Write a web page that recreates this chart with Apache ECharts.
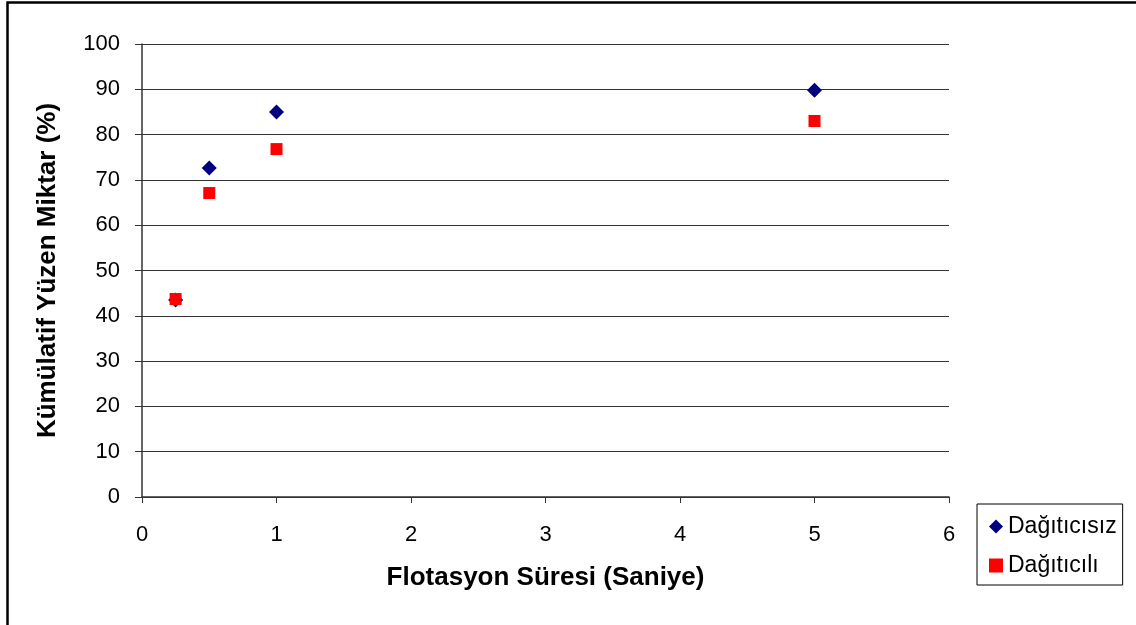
<!DOCTYPE html>
<html>
<head>
<meta charset="utf-8">
<script src="https://cdn.jsdelivr.net/npm/echarts@6/dist/echarts.min.js"></script>
<style>
  html, body { margin: 0; padding: 0; background: #fff; }
  #chart { width: 1136px; height: 625px; }
</style>
</head>
<body>
<div id="chart"></div>
<script>
// Flotation time (s) and cumulative floated amount (%)
const seriesNames = ['Dağıtıcısız', 'Dağıtıcılı'];
const times = [0.25, 0.5, 1, 5];
const withoutDispersant = [43.5, 72.6, 85.0, 89.8];
const withDispersant = [43.7, 67.1, 76.8, 83.0];

const xTitle = 'Flotasyon Süresi (Saniye)';
const yTitle = 'Kümülatif Yüzen Miktar (%)';

const font = 'Liberation Sans, Arial, sans-serif';

const chart = echarts.init(document.getElementById('chart'), null, { renderer: 'canvas' });

chart.setOption({
  backgroundColor: '#fff',
  animation: false,
  graphic: [{
    type: 'rect',
    shape: { x: 7.5, y: 2.5, width: 1140, height: 640 },
    style: { fill: 'none', stroke: '#000', lineWidth: 2.5 },
    silent: true
  }],
  grid: { left: 142, top: 44, right: 187, bottom: 128, containLabel: false },
  legend: {
    orient: 'vertical',
    left: 977,
    top: 504,
    itemWidth: 14,
    itemHeight: 14,
    itemGap: 16,
    padding: [11, 6, 8, 12],
    borderColor: '#000',
    borderWidth: 1,
    textStyle: { fontFamily: font, fontSize: 23, color: '#000' },
    data: [
      { name: seriesNames[0], icon: 'diamond' },
      { name: seriesNames[1], icon: 'rect' }
    ]
  },
  xAxis: {
    type: 'value',
    min: 0, max: 6, interval: 1,
    name: xTitle,
    nameLocation: 'middle',
    nameGap: 68,
    nameTextStyle: { fontFamily: font, fontSize: 26, fontWeight: 'bold', color: '#000' },
    axisLine: { show: true, onZero: false, lineStyle: { color: '#333', width: 1.5 } },
    axisTick: { show: true, length: 6, inside: false, lineStyle: { color: '#333' } },
    axisLabel: { fontFamily: font, fontSize: 22, color: '#000', margin: 27 },
    splitLine: { show: false }
  },
  yAxis: {
    type: 'value',
    min: 0, max: 100, interval: 10,
    name: yTitle,
    nameLocation: 'middle',
    nameGap: 81,
    nameRotate: 90,
    nameTextStyle: { fontFamily: font, fontSize: 26, fontWeight: 'bold', color: '#000' },
    axisLine: { show: true, lineStyle: { color: '#333', width: 1.5 } },
    axisTick: { show: true, length: 7, lineStyle: { color: '#333' } },
    axisLabel: { fontFamily: font, fontSize: 22, color: '#000', margin: 22 },
    splitLine: { show: true, lineStyle: { color: '#333', width: 1.2 } }
  },
  series: [
    {
      name: seriesNames[0],
      type: 'scatter',
      symbol: 'diamond',
      symbolSize: 15,
      itemStyle: { color: '#000080', opacity: 1 },
      data: times.map((t, i) => [t, withoutDispersant[i]]),
      z: 2
    },
    {
      name: seriesNames[1],
      type: 'scatter',
      symbol: 'rect',
      symbolSize: 12,
      itemStyle: { color: '#ff0000', opacity: 1 },
      data: times.map((t, i) => [t, withDispersant[i]]),
      z: 3
    }
  ]
});
</script>
</body>
</html>
